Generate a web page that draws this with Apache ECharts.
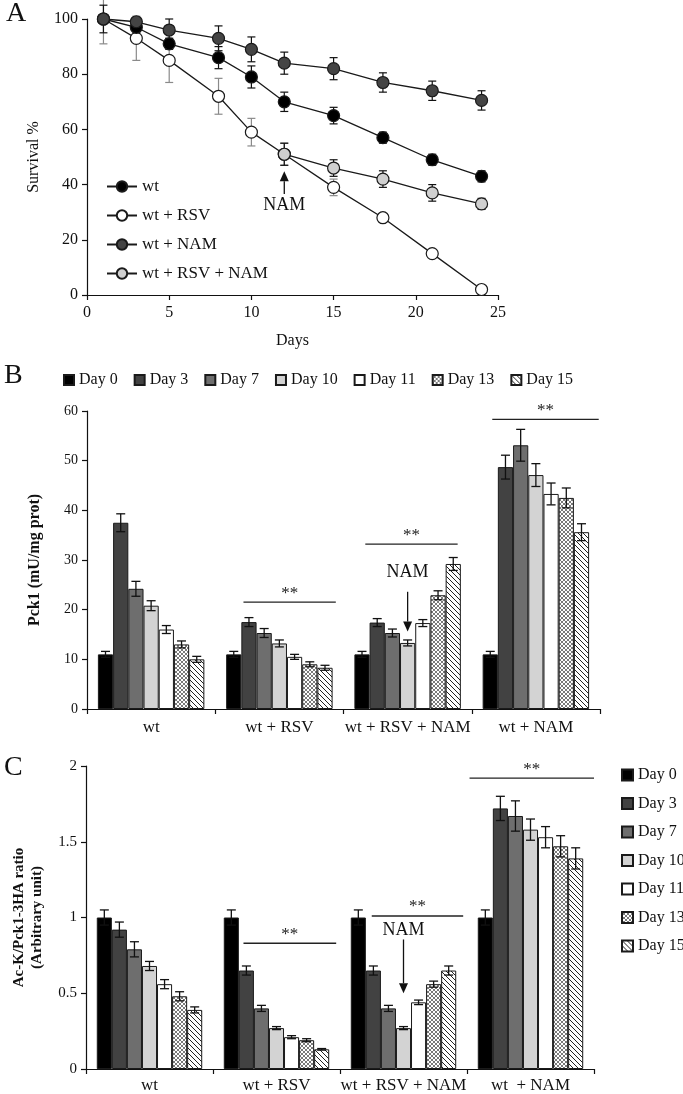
<!DOCTYPE html>
<html><head><meta charset="utf-8">
<script src="https://cdn.jsdelivr.net/npm/echarts@6/dist/echarts.min.js"></script>
<style>html,body{margin:0;padding:0;background:#fff}#c{width:683px;height:1094px}</style>
</head><body><div id="c"></div>
<script>
// ---------- Panel A data ----------
const days = [1, 3, 5, 8, 10, 12, 15, 18, 21, 24];
const survWt = [100, 97, 91, 86, 79, 70, 65, 57, 49, 43];
const survWtErr = [5, 2, 2, 4, 4, 3.5, 3, 2, 2, 2];
const survRsv = [100, 93, 85, 72, 59, 51, 39, 28, 15, 2];
const survRsvErr = [9, 8, 8, 6.5, 5, 4, 3, 1, 1, 0.5];
const survNam = [100, 99, 96, 93, 89, 84, 82, 77, 74, 70.5];
const survNamErr = [1, 1, 4, 4.5, 4.5, 4, 4, 3.5, 3.5, 3.5];
const namDays = [12, 15, 18, 21, 24];
const survRsvNam = [51, 46, 42, 37, 33];
const survRsvNamErr = [4, 3, 3, 3, 2];

// ---------- Panels B / C categories ----------
const groupsB = ['wt', 'wt + RSV', 'wt + RSV + NAM', 'wt + NAM'];
const groupsC = ['wt', 'wt + RSV', 'wt + RSV + NAM', 'wt  + NAM'];
const dayNames = ['Day 0', 'Day 3', 'Day 7', 'Day 10', 'Day 11', 'Day 13', 'Day 15'];

// ---------- Panel B data (Pck1, mU/mg prot) ----------
const pckDay0 = [11, 11, 11, 11];
const pckDay3 = [37.5, 17.5, 17.4, 48.7];
const pckDay7 = [24.2, 15.3, 15.3, 53.1];
const pckDay10 = [20.8, 13.2, 13.3, 47.1];
const pckDay11 = [16, 10.5, 17.3, 43.3];
const pckDay13 = [13, 9, 22.9, 42.5];
const pckDay15 = [10, 8.3, 29.2, 35.6];
const pckErr0 = [0.6, 0.6, 0.6, 0.6];
const pckErr3 = [1.8, 0.9, 0.8, 2.4];
const pckErr7 = [1.5, 0.9, 0.8, 3.2];
const pckErr10 = [1.0, 0.7, 0.6, 2.3];
const pckErr11 = [0.8, 0.5, 0.7, 2.2];
const pckErr13 = [0.7, 0.5, 0.9, 2.0];
const pckErr15 = [0.6, 0.5, 1.3, 1.7];

// ---------- Panel C data (Ac-K/Pck1-3HA ratio) ----------
const acDay0 = [1, 1, 1, 1];
const acDay3 = [0.92, 0.65, 0.65, 1.72];
const acDay7 = [0.79, 0.40, 0.40, 1.67];
const acDay10 = [0.68, 0.27, 0.27, 1.58];
const acDay11 = [0.56, 0.21, 0.44, 1.53];
const acDay13 = [0.48, 0.19, 0.56, 1.47];
const acDay15 = [0.39, 0.13, 0.65, 1.39];
const acErr0 = [0.05, 0.05, 0.05, 0.05];
const acErr3 = [0.05, 0.03, 0.03, 0.08];
const acErr7 = [0.05, 0.02, 0.02, 0.10];
const acErr10 = [0.03, 0.01, 0.01, 0.07];
const acErr11 = [0.03, 0.01, 0.015, 0.07];
const acErr13 = [0.03, 0.01, 0.02, 0.07];
const acErr15 = [0.02, 0.005, 0.03, 0.07];

// ---------- Annotations (group index, level, from/to as fraction of band) ----------
const bracketsB = [[1, 21.5, -0.28, 0.44], [2, 33.2, -0.33, 0.39], [3, 58.3, -0.34, 0.49]];
const bracketsC = [[1, 0.83, -0.26, 0.47], [2, 1.01, -0.25, 0.47], [3, 1.92, -0.48, 0.50]];
// [x, tail, head, text level]
const arrowA = [[12, 36.6, 44.8, 32.4]];
const arrowB = [[2, 23.6, 15.6, 27.6]];
const arrowC = [[2, 0.855, 0.50, 0.915]];

const FONT = 'Liberation Serif';
const GAP = 0.17;

function makePattern(kind) {
  const s = kind === 'cross' ? 4 : 5;
  const cv = document.createElement('canvas');
  cv.width = s; cv.height = s;
  const g = cv.getContext('2d');
  g.fillStyle = '#fff'; g.fillRect(0, 0, s, s);
  g.strokeStyle = kind === 'cross' ? '#7a7a7a' : '#222';
  g.lineWidth = 1;
  g.beginPath();
  for (let k = -s; k <= s; k += s) { g.moveTo(0, k); g.lineTo(s, s + k); }
  if (kind === 'cross') { for (let k = 0; k <= 2 * s; k += s) { g.moveTo(0, k); g.lineTo(s, k - s); } }
  g.stroke();
  return { image: cv, repeat: 'repeat' };
}
const dayColors = ['#000000', '#424242', '#6e6e6e', '#d3d3d3', '#ffffff', makePattern('cross'), makePattern('diag')];

function ln(x1, y1, x2, y2, c, w) {
  return { type: 'line', shape: { x1, y1, x2, y2 }, style: { stroke: c || '#111', lineWidth: w || 1.2 } };
}

function xyErrRender(color) {
  return function (params, api) {
    const x = api.value(0), v = api.value(1), e = api.value(2);
    const p1 = api.coord([x, v + e]), p2 = api.coord([x, v - e]);
    const h = 4;
    return { type: 'group', children: [
      ln(p1[0], p1[1], p2[0], p2[1], color, 1.2),
      ln(p1[0] - h, p1[1], p1[0] + h, p1[1], color, 1.2),
      ln(p2[0] - h, p2[1], p2[0] + h, p2[1], color, 1.2)] };
  };
}
function barErrRender(k) {
  return function (params, api) {
    const ci = api.value(0), v = api.value(1), e = api.value(2);
    const band = api.size([1, 0])[0];
    const bw = band * (1 - GAP) / 7;
    const off = (k - 3) * bw;
    const p1 = api.coord([ci, v + e]), p2 = api.coord([ci, v - e]);
    const x = p1[0] + off, h = 4.5;
    return { type: 'group', children: [
      ln(x, p1[1], x, p2[1], '#111', 1.3),
      ln(x - h, p1[1], x + h, p1[1], '#111', 1.3),
      ln(x - h, p2[1], x + h, p2[1], '#111', 1.3)] };
  };
}
function bracketRender(params, api) {
  const c = api.coord([api.value(0), api.value(1)]);
  const band = api.size([1, 0])[0];
  const x1 = c[0] + api.value(2) * band, x2 = c[0] + api.value(3) * band;
  return { type: 'group', children: [
    ln(x1, c[1], x2, c[1], '#222', 1.3),
    { type: 'text', style: { text: '**', x: (x1 + x2) / 2, y: c[1] - 9, align: 'center', verticalAlign: 'middle', fontFamily: FONT, fontSize: 17, fill: '#222' } }] };
}
function arrowRender(params, api) {
  const x = api.value(0);
  const t = api.coord([x, api.value(1)]), hd = api.coord([x, api.value(2)]), tx = api.coord([x, api.value(3)]);
  const dir = hd[1] > t[1] ? 1 : -1;
  const L = 10, W = 4.5;
  return { type: 'group', children: [
    ln(t[0], t[1], hd[0], hd[1] - dir * L, '#111', 1.3),
    { type: 'polygon', shape: { points: [[hd[0], hd[1]], [hd[0] - W, hd[1] - dir * L], [hd[0] + W, hd[1] - dir * L]] }, style: { fill: '#111' } },
    { type: 'text', style: { text: 'NAM', x: tx[0], y: tx[1], align: 'center', verticalAlign: 'middle', fontFamily: FONT, fontSize: 18, fill: '#111' } }] };
}

const pair = (xs, ys) => xs.map((x, i) => [x, ys[i]]);
const trip = (xs, ys, es) => xs.map((x, i) => [x, ys[i], es[i]]);
const idx = [0, 1, 2, 3];

const series = [];
// Panel A error bars
[[survRsv, survRsvErr, days, '#8a8a8a'], [survWt, survWtErr, days, '#111'], [survNam, survNamErr, days, '#111'], [survRsvNam, survRsvNamErr, namDays, '#111']]
  .forEach(([v, e, xs, col], i) => series.push({ type: 'custom', name: 'errA' + i, xAxisIndex: 0, yAxisIndex: 0, z: 1, silent: true,
    renderItem: xyErrRender(col), data: trip(xs, v, e), encode: { x: 0, y: 1 } }));
// Panel A lines
const lineDefs = [['wt + RSV', survRsv, days, '#ffffff'], ['wt', survWt, days, '#000000'], ['wt + NAM', survNam, days, '#444444'], ['wt + RSV + NAM', survRsvNam, namDays, '#d0d0d0']];
lineDefs.forEach(([n, v, xs, col]) => series.push({ type: 'line', name: n, xAxisIndex: 0, yAxisIndex: 0, z: 3,
  symbol: 'circle', symbolSize: 12, data: pair(xs, v),
  itemStyle: { color: col, borderColor: '#1a1a1a', borderWidth: 1.2 },
  lineStyle: { color: '#1a1a1a', width: 1.3 } }));
series.push({ type: 'custom', name: 'arrowA', xAxisIndex: 0, yAxisIndex: 0, z: 4, silent: true, renderItem: arrowRender, data: arrowA, encode: { x: 0, y: 1 } });

// Panels B & C bars
const pckVals = [pckDay0, pckDay3, pckDay7, pckDay10, pckDay11, pckDay13, pckDay15];
const pckErrs = [pckErr0, pckErr3, pckErr7, pckErr10, pckErr11, pckErr13, pckErr15];
const acVals = [acDay0, acDay3, acDay7, acDay10, acDay11, acDay13, acDay15];
const acErrs = [acErr0, acErr3, acErr7, acErr10, acErr11, acErr13, acErr15];
[[pckVals, pckErrs, 1, bracketsB, arrowB], [acVals, acErrs, 2, bracketsC, arrowC]].forEach(([vals, errs, ax, br, ar]) => {
  vals.forEach((v, k) => series.push({ type: 'bar', name: dayNames[k], xAxisIndex: ax, yAxisIndex: ax, z: 2,
    barGap: '0%', barCategoryGap: (GAP * 100) + '%', data: v,
    itemStyle: { color: dayColors[k], borderColor: '#1a1a1a', borderWidth: 1 } }));
  vals.forEach((v, k) => series.push({ type: 'custom', name: 'err' + ax + '_' + k, xAxisIndex: ax, yAxisIndex: ax, z: 5, silent: true,
    renderItem: barErrRender(k), data: trip(idx, v, errs[k]), encode: { x: 0, y: 1 } }));
  series.push({ type: 'custom', name: 'br' + ax, xAxisIndex: ax, yAxisIndex: ax, z: 6, silent: true, renderItem: bracketRender, data: br, encode: { x: 0, y: 1 } });
  series.push({ type: 'custom', name: 'ar' + ax, xAxisIndex: ax, yAxisIndex: ax, z: 6, silent: true, renderItem: arrowRender, data: ar, encode: { x: 0, y: 1 } });
});

const axLine = { show: true, lineStyle: { color: '#111', width: 1.2 } };
const axTick = { show: true, length: 5, lineStyle: { color: '#111', width: 1.2 } };

const option = {
  animation: false,
  backgroundColor: '#fff',
  textStyle: { fontFamily: FONT, color: '#111' },
  graphic: [
    { type: 'text', left: 6, top: 0, style: { text: 'A', fontFamily: FONT, fontSize: 28, fill: '#111' } },
    { type: 'text', left: 4, top: 362, style: { text: 'B', fontFamily: FONT, fontSize: 28, fill: '#111' } },
    { type: 'text', left: 4, top: 754, style: { text: 'C', fontFamily: FONT, fontSize: 28, fill: '#111' } }
  ],
  legend: [
    { data: ['wt', 'wt + RSV', 'wt + NAM', 'wt + RSV + NAM'], orient: 'vertical', left: 106, top: 178, padding: 0, itemWidth: 30, itemHeight: 13, itemGap: 12,
      textStyle: { fontFamily: FONT, fontSize: 17, color: '#111' }, selectedMode: false },
    { data: dayNames, orient: 'horizontal', left: 63, top: 372, padding: 0, icon: 'rect', itemWidth: 10, itemHeight: 10, itemGap: 16,
      textStyle: { fontFamily: FONT, fontSize: 16, color: '#111' }, selectedMode: false },
    { data: dayNames, orient: 'vertical', left: 621, top: 767, padding: 0, icon: 'rect', itemWidth: 11, itemHeight: 11, itemGap: 12.5,
      textStyle: { fontFamily: FONT, fontSize: 16, color: '#111' }, selectedMode: false }
  ],
  grid: [
    { left: 87, right: 185, top: 19, bottom: 799 },
    { left: 87, right: 83, top: 411, bottom: 385 },
    { left: 86, right: 89, top: 766, bottom: 24 }
  ],
  xAxis: [
    { type: 'value', gridIndex: 0, min: 0, max: 25, interval: 5, name: 'Days', nameLocation: 'middle', nameGap: 38,
      nameTextStyle: { fontFamily: FONT, fontSize: 16, color: '#111' },
      axisLine: axLine, axisTick: axTick, splitLine: { show: false },
      axisLabel: { fontFamily: FONT, fontSize: 16, color: '#111', margin: 10 } },
    { type: 'category', gridIndex: 1, data: groupsB, axisLine: axLine, axisTick: axTick,
      axisLabel: { interval: 0, fontFamily: FONT, fontSize: 17, color: '#111', margin: 10 } },
    { type: 'category', gridIndex: 2, data: groupsC, axisLine: axLine, axisTick: axTick,
      axisLabel: { interval: 0, fontFamily: FONT, fontSize: 17, color: '#111', margin: 8 } }
  ],
  yAxis: [
    { type: 'value', gridIndex: 0, min: 0, max: 100, interval: 20, name: 'Survival %', nameLocation: 'middle', nameGap: 45,
      nameTextStyle: { fontFamily: FONT, fontSize: 16, color: '#111' },
      axisLine: axLine, axisTick: axTick, splitLine: { show: false },
      axisLabel: { fontFamily: FONT, fontSize: 16, color: '#111', margin: 9 } },
    { type: 'value', gridIndex: 1, min: 0, max: 60, interval: 10, name: 'Pck1 (mU/mg prot)', nameLocation: 'middle', nameGap: 44,
      nameTextStyle: { fontFamily: FONT, fontSize: 16, fontWeight: 'bold', color: '#111' },
      axisLine: axLine, axisTick: axTick, splitLine: { show: false },
      axisLabel: { fontFamily: FONT, fontSize: 14, color: '#111', margin: 9 } },
    { type: 'value', gridIndex: 2, min: 0, max: 2, interval: 0.5, name: 'Ac-K/Pck1-3HA ratio\n(Arbitrary unit)', nameLocation: 'middle', nameGap: 40,
      nameTextStyle: { fontFamily: FONT, fontSize: 15, fontWeight: 'bold', color: '#111', lineHeight: 18 },
      axisLine: axLine, axisTick: axTick, splitLine: { show: false },
      axisLabel: { fontFamily: FONT, fontSize: 15, color: '#111', margin: 9 } }
  ],
  series
};
const chart = echarts.init(document.getElementById('c'), null, { renderer: 'canvas' });
chart.setOption(option);
</script></body></html>
